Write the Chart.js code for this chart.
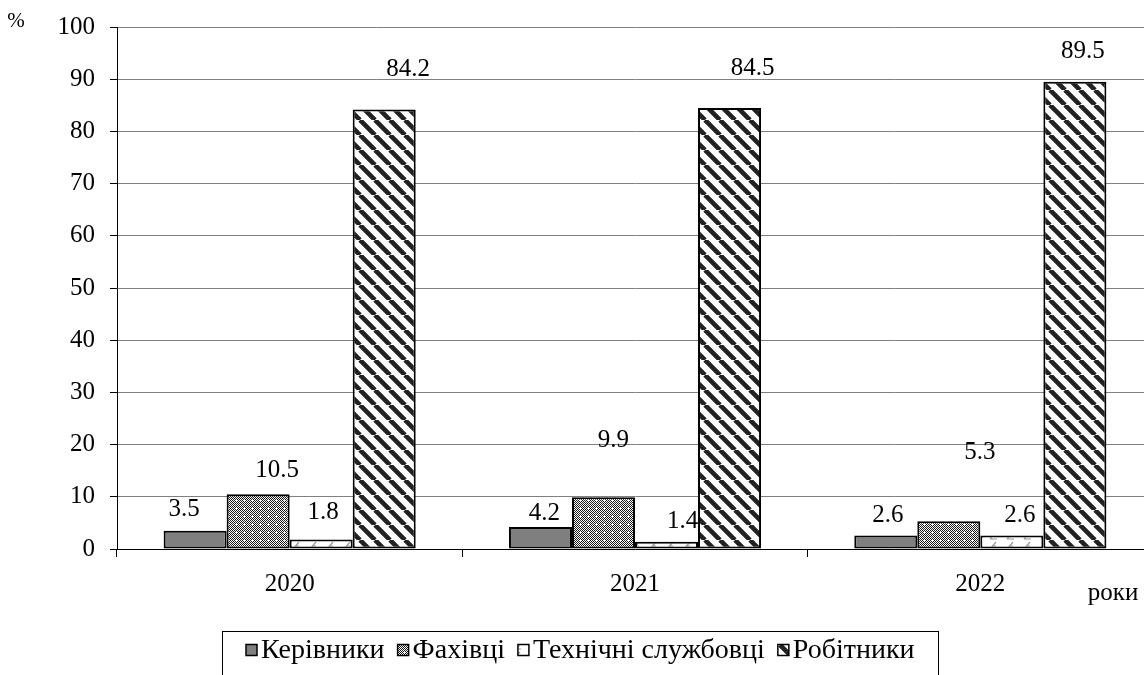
<!DOCTYPE html>
<html>
<head>
<meta charset="utf-8">
<script src="https://cdn.jsdelivr.net/npm/chart.js@4/dist/chart.umd.min.js"></script>
<style>
html,body{margin:0;padding:0;background:#fff;overflow:hidden;width:1144px;height:675px;}
canvas{display:block;}
</style>
</head>
<body>
<canvas id="c" width="1160" height="675"></canvas>
<script>
const categories = ['2020', '2021', '2022'];
const seriesNames = ['Керівники', 'Фахівці', 'Технічні службовці', 'Робітники'];
const kerivnyky = [3.5, 4.2, 2.6];
const fakhivtsi = [10.5, 9.9, 5.3];
const tekhnichni = [1.8, 1.4, 2.6];
const robitnyky = [84.2, 84.5, 89.5];
const yTickValues = [0, 10, 20, 30, 40, 50, 60, 70, 80, 90, 100];
const yUnit = '%';
const xUnit = 'роки';

const FONT = "'Liberation Serif', 'Times New Roman', serif";
const FS = 25;
const LEGEND_FS = 28;

function makeTile(w, h, draw) {
  const c = document.createElement('canvas');
  c.width = w; c.height = h;
  const g = c.getContext('2d');
  draw(g, w, h);
  return document.getElementById('c').getContext('2d').createPattern(c, 'repeat');
}
const solidGray = '#7f7f7f';
const checkPattern = makeTile(8, 8, (g, w, h) => {
  g.fillStyle = '#fff'; g.fillRect(0, 0, w, h);
  g.fillStyle = '#1a1a1a';
  for (let y = 0; y < h; y++) for (let x = 0; x < w; x++) if ((x + y) % 2 === 0) g.fillRect(x, y, 1, 1);
  g.fillStyle = '#fff';
  g.fillRect(3, 4, 2, 1); g.fillRect(4, 3, 1, 3);
});
const lightPattern = makeTile(17, 10, (g, w, h) => {
  g.fillStyle = '#fff'; g.fillRect(0, 0, w, h);
  g.strokeStyle = '#999'; g.lineWidth = 1.2;
  g.beginPath(); g.moveTo(4, 9); g.lineTo(10, 2); g.moveTo(4, 9); g.lineTo(11, 9); g.moveTo(7, 6); g.lineTo(10, 6); g.stroke();
});
const stripePattern = makeTile(15, 15, (g, s) => {
  g.fillStyle = '#fff'; g.fillRect(0, 0, s, s);
  g.strokeStyle = '#222'; g.lineWidth = 4.7;
  g.beginPath();
  for (let k = -1; k <= 1; k++) { g.moveTo(k * s, 0); g.lineTo(k * s + s, s); }
  g.stroke();
});
const fills = [solidGray, checkPattern, lightPattern, stripePattern];

// label nudges (dx, dy relative to bar top-centre), per series/category
const labelNudge = [
  [[-11, -21], [4, -14], [2, -20]],
  [[19, -24], [10, -57], [31, -69]],
  [[2, -27], [16, -20], [8, -20]],
  [[24, -40], [23, -39], [8, -30]]
];

const valueLabels = {
  id: 'valueLabels',
  afterDatasetsDraw(chart) {
    const ctx = chart.ctx;
    ctx.save();
    ctx.font = FS + 'px ' + FONT;
    ctx.fillStyle = '#000';
    ctx.textAlign = 'center';
    ctx.textBaseline = 'middle';
    chart.data.datasets.forEach((ds, i) => {
      chart.getDatasetMeta(i).data.forEach((el, j) => {
        const n = labelNudge[i][j];
        ctx.fillText(String(ds.data[j]), el.x + n[0], el.y + n[1]);
      });
    });
    ctx.restore();
  }
};

const extras = {
  id: 'extras',
  afterDraw(chart) {
    const ctx = chart.ctx;
    ctx.save();
    ctx.fillStyle = '#000';
    ctx.font = '21px ' + FONT;
    ctx.textAlign = 'center';
    ctx.textBaseline = 'middle';
    ctx.fillText(yUnit, 16, 21);
    ctx.font = FS + 'px ' + FONT;
    ctx.fillText(xUnit, 1113, 593);
    // legend
    const box = {l: 222.5, t: 631.5, r: 938.5, b: 690};
    ctx.strokeStyle = '#000';
    ctx.lineWidth = 1;
    ctx.strokeRect(box.l, box.t, box.r - box.l, box.b - box.t);
    ctx.font = LEGEND_FS + 'px ' + FONT;
    ctx.textAlign = 'left';
    const mk = 11, gap1 = 4, gap2 = 13;
    const widths = seriesNames.map(s => ctx.measureText(s).width);
    const total = widths.reduce((a, w) => a + mk + gap1 + w, 0) + gap2 * (seriesNames.length - 1);
    let x = Math.round((box.l + box.r) / 2 - total / 2);
    const cy = 650;
    seriesNames.forEach((s, i) => {
      ctx.fillStyle = fills[i];
      ctx.fillRect(x, cy - mk / 2, mk, mk);
      ctx.lineWidth = 1.5;
      ctx.strokeStyle = '#000';
      ctx.strokeRect(x, cy - mk / 2, mk, mk);
      ctx.fillStyle = '#000';
      ctx.fillText(s, x + mk + gap1, cy + 1);
      x += mk + gap1 + widths[i] + gap2;
    });
    ctx.restore();
  }
};

const seriesData = [kerivnyky, fakhivtsi, tekhnichni, robitnyky];

new Chart(document.getElementById('c'), {
  type: 'bar',
  data: {
    labels: categories,
    datasets: seriesNames.map((name, i) => ({
      label: name,
      data: seriesData[i],
      backgroundColor: fills[i],
      borderColor: '#000',
      borderWidth: 2,
      borderSkipped: false,
      categoryPercentage: 0.73,
      barPercentage: 1
    }))
  },
  options: {
    responsive: false,
    animation: false,
    devicePixelRatio: 1,
    layout: {padding: {top: 27, right: 7, left: 0, bottom: 0}},
    plugins: {legend: {display: false}, tooltip: {enabled: false}},
    scales: {
      x: {
        offset: true,
        grid: {offset: true, drawOnChartArea: false, drawTicks: true, tickLength: 8, tickColor: '#000', tickWidth: 1},
        border: {display: true, color: '#000', width: 1},
        ticks: {font: {family: FONT, size: FS}, color: '#000', padding: 12},
        afterFit(s) { s.height = 675 - 549; }
      },
      y: {
        min: 0, max: 100,
        afterBuildTicks(s) { s.ticks = yTickValues.map(v => ({value: v})); },
        grid: {color: '#808080', lineWidth: 1, tickLength: 7, tickColor: '#000', drawTicks: true},
        border: {display: true, color: '#000', width: 1},
        ticks: {font: {family: FONT, size: FS, lineHeight: 1}, color: '#000', padding: 15},
        afterFit(s) { s.width = 117; s.paddingTop = 0; s.paddingBottom = 0; }
      }
    }
  },
  plugins: [valueLabels, extras]
});
</script>
</body>
</html>
